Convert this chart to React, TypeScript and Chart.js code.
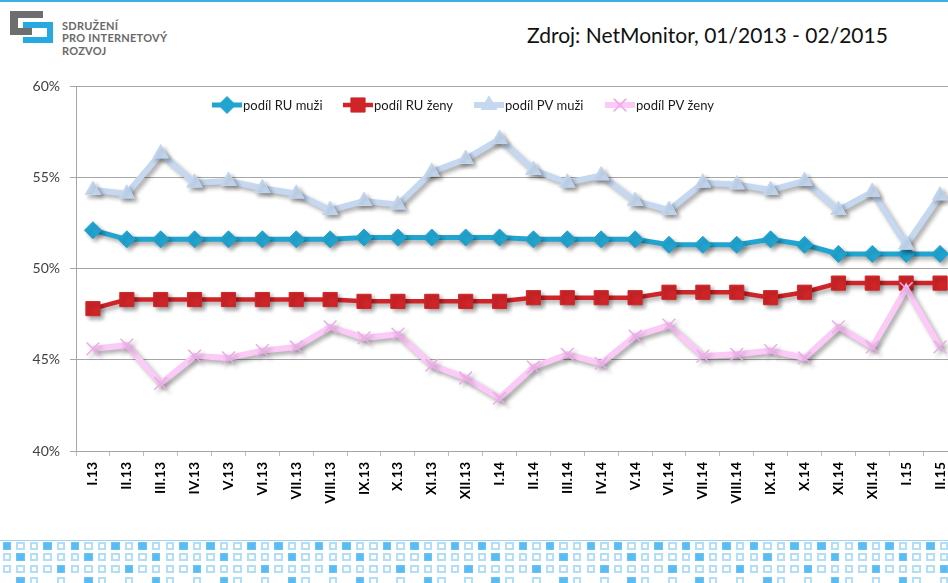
import React, { useEffect, useRef } from 'react';
import { Chart, registerables } from 'chart.js';
import { drawPoint } from 'chart.js/helpers';

Chart.register(...registerables);

const categories = [
  'I.13', 'II.13', 'III.13', 'IV.13', 'V.13', 'VI.13', 'VII.13', 'VIII.13', 'IX.13', 'X.13', 'XI.13', 'XII.13',
  'I.14', 'II.14', 'III.14', 'IV.14', 'V.14', 'VI.14', 'VII.14', 'VIII.14', 'IX.14', 'X.14', 'XI.14', 'XII.14',
  'I.15', 'II.15',
];

const ruMuzi = [52.1, 51.6, 51.6, 51.6, 51.6, 51.6, 51.6, 51.6, 51.7, 51.7, 51.7, 51.7, 51.7, 51.6, 51.6, 51.6, 51.6, 51.3, 51.3, 51.3, 51.6, 51.3, 50.8, 50.8, 50.8, 50.8];
const ruZeny = [47.8, 48.3, 48.3, 48.3, 48.3, 48.3, 48.3, 48.3, 48.2, 48.2, 48.2, 48.2, 48.2, 48.4, 48.4, 48.4, 48.4, 48.7, 48.7, 48.7, 48.4, 48.7, 49.2, 49.2, 49.2, 49.2];
const pvMuzi = [54.3, 54.1, 56.3, 54.7, 54.8, 54.4, 54.1, 53.2, 53.7, 53.5, 55.3, 56.0, 57.1, 55.4, 54.7, 55.1, 53.7, 53.2, 54.7, 54.6, 54.3, 54.8, 53.2, 54.2, 51.3, 54.0];
const pvZeny = [45.6, 45.8, 43.7, 45.2, 45.1, 45.5, 45.7, 46.8, 46.2, 46.4, 44.7, 44.0, 42.9, 44.6, 45.3, 44.8, 46.3, 46.9, 45.2, 45.3, 45.5, 45.1, 46.8, 45.7, 48.9, 45.7];

const seriesLabels = ['podíl RU muži', 'podíl RU ženy', 'podíl PV muži', 'podíl PV ženy'];
const yTicks = [40, 45, 50, 55, 60];

const FONT = 'Lato, "Open Sans", sans-serif';

const shadowPlugin = {
  id: 'lineShadow',
  beforeDatasetsDraw(chart: any) {
    const c = chart.ctx;
    c.save();
    c.shadowColor = 'rgba(0,0,0,0.33)';
    c.shadowBlur = 4;
    c.shadowOffsetX = 3;
    c.shadowOffsetY = 3;
  },
  afterDatasetsDraw(chart: any) {
    chart.ctx.restore();
  },
};

const legendPlugin = {
  id: 'customLegend',
  afterDraw(chart: any) {
    const ctx = chart.ctx;
    const { left, top } = chart.chartArea;
    ctx.save();
    ctx.font = `13px ${FONT}`;
    ctx.textBaseline = 'middle';
    ctx.textAlign = 'left';
    chart.data.datasets.forEach((ds: any, i: number) => {
      const x0 = left + 136 + i * 131;
      const y = top + 19;
      ctx.strokeStyle = ds.borderColor;
      ctx.lineWidth = ds.borderWidth;
      ctx.beginPath();
      ctx.moveTo(x0, y);
      ctx.lineTo(x0 + 30, y);
      ctx.stroke();
      ctx.fillStyle = ds.pointBackgroundColor;
      ctx.strokeStyle = ds.pointBorderColor;
      ctx.lineWidth = ds.pointBorderWidth;
      drawPoint(ctx, { pointStyle: ds.pointStyle, radius: ds.pointRadius, borderWidth: ds.pointBorderWidth, rotation: 0 } as any, x0 + 15, y);
      ctx.fillStyle = '#1a1a1a';
      ctx.fillText(ds.label, x0 + 31, y + 1);
    });
    ctx.restore();
  },
};

function Pattern() {
  const cells: any[] = [];
  for (let r = 0; r < 4; r++) {
    for (let c = 0; c < 70; c++) {
      const m = c % 5;
      let t: string | null;
      if (r === 0) t = m === 0 || m === 3 ? 'f' : 'o';
      else if (r === 1) t = m === 1 ? 'f' : 'o';
      else if (r === 2) t = m === 4 ? 'f' : 'o';
      else t = m === 1 ? 'f' : m === 2 || m === 4 ? 'o' : null;
      if (!t) continue;
      cells.push(
        <div
          key={`${r}-${c}`}
          style={{
            position: 'absolute',
            left: 2.6 + c * 13.58,
            top: 541.6 + r * 11.7,
            width: 8.5,
            height: 8,
            boxSizing: 'border-box',
            border: t === 'f' ? '1px solid rgb(110,195,245)' : '2px solid rgb(178,222,248)',
            background: t === 'f' ? 'rgb(88,188,245)' : '#fff',
          }}
        />
      );
    }
  }
  return (
    <>
      <div style={{ position: 'absolute', left: 0, top: 539.5, width: 948, height: 1.5, background: 'rgb(160,212,242)' }} />
      {cells}
    </>
  );
}

function Logo() {
  const grey = 'rgb(110,110,110)';
  const blue = 'rgb(38,168,225)';
  const bar = (l: number, t: number, w: number, h: number, c: string) => (
    <div style={{ position: 'absolute', left: l, top: t, width: w, height: h, background: c }} />
  );
  return (
    <>
      {bar(10, 11, 33, 7, grey)}
      {bar(10, 11, 8, 24, grey)}
      {bar(10, 28, 22, 7, grey)}
      {bar(23, 22, 30, 6, blue)}
      {bar(47, 22, 6, 21, blue)}
      {bar(23, 37, 30, 6, blue)}
      <div
        style={{
          position: 'absolute',
          left: 62,
          top: 20,
          fontFamily: FONT,
          fontSize: 11,
          fontWeight: 700,
          lineHeight: '12.3px',
          letterSpacing: 0.25,
          color: 'rgb(105,105,105)',
        }}
      >
        <div>SDRUŽENÍ</div>
        <div>PRO INTERNETOVÝ</div>
        <div>ROZVOJ</div>
      </div>
    </>
  );
}

export default function App() {
  const canvasRef = useRef<HTMLCanvasElement | null>(null);

  useEffect(() => {
    if (!canvasRef.current) return;
    const chart = new Chart(canvasRef.current, {
      type: 'line',
      data: {
        labels: categories,
        datasets: [
          {
            label: seriesLabels[0],
            data: ruMuzi,
            borderColor: 'rgb(33,164,208)',
            backgroundColor: 'rgb(33,164,208)',
            borderWidth: 5,
            pointStyle: 'rectRot',
            pointRadius: 8.5,
            pointBackgroundColor: 'rgb(33,164,208)',
            pointBorderColor: 'rgb(33,164,208)',
            pointBorderWidth: 1,
            order: 4,
          },
          {
            label: seriesLabels[1],
            data: ruZeny,
            borderColor: 'rgb(207,37,40)',
            backgroundColor: 'rgb(207,37,40)',
            borderWidth: 4.5,
            pointStyle: 'rect',
            pointRadius: 10,
            pointBackgroundColor: 'rgb(207,37,40)',
            pointBorderColor: 'rgb(207,37,40)',
            pointBorderWidth: 1,
            order: 3,
          },
          {
            label: seriesLabels[2],
            data: pvMuzi,
            borderColor: 'rgb(197,216,240)',
            backgroundColor: 'rgb(197,216,240)',
            borderWidth: 6,
            pointStyle: 'triangle',
            pointRadius: 9,
            pointBackgroundColor: 'rgb(197,216,240)',
            pointBorderColor: 'rgb(197,216,240)',
            pointBorderWidth: 1,
            order: 2,
          },
          {
            label: seriesLabels[3],
            data: pvZeny,
            borderColor: 'rgb(251,202,246)',
            backgroundColor: 'rgb(251,202,246)',
            borderWidth: 6,
            pointStyle: 'crossRot',
            pointRadius: 9,
            pointBackgroundColor: 'rgb(251,202,246)',
            pointBorderColor: 'rgb(238,170,234)',
            pointBorderWidth: 1.5,
            order: 1,
          },
        ] as any,
      },
      options: {
        responsive: false,
        animation: false,
        devicePixelRatio: 1,
        layout: { padding: { top: 86, right: 43, left: 0, bottom: 0 } },
        plugins: { legend: { display: false }, tooltip: { enabled: false } },
        elements: { line: { tension: 0 } },
        scales: {
          x: {
            offset: true,
            grid: { offset: true, drawOnChartArea: false, drawTicks: true, tickLength: 5, color: 'rgb(190,190,190)' },
            border: { color: 'rgb(166,166,166)' },
            ticks: {
              autoSkip: false,
              maxRotation: 90,
              minRotation: 90,
              padding: 6,
              color: '#000',
              font: { family: FONT, size: 14, weight: 'bold' },
            },
            afterFit(s: any) {
              s.height = 132;
            },
          },
          y: {
            min: yTicks[0],
            max: yTicks[yTicks.length - 1],
            afterBuildTicks(s: any) {
              s.ticks = yTicks.map((v) => ({ value: v }));
            },
            ticks: {
              callback: (v: any) => v + '%',
              padding: 10,
              color: '#404040',
              font: { family: FONT, size: 14 },
            },
            grid: { color: 'rgb(166,166,166)', tickLength: 6 },
            border: { color: 'rgb(166,166,166)' },
            afterFit(s: any) {
              s.width = 76;
            },
          },
        },
      } as any,
      plugins: [shadowPlugin, legendPlugin],
    });
    return () => chart.destroy();
  }, []);

  return (
    <div style={{ position: 'fixed', left: 0, top: 0, width: 948, height: 583, overflow: 'hidden', background: '#fff' }}>
      <div style={{ position: 'absolute', left: 0, top: 0, width: 948, height: 2, background: 'rgb(60,176,228)' }} />
      <Logo />
      <div
        style={{
          position: 'absolute',
          left: 527,
          top: 21,
          fontFamily: FONT,
          fontSize: 21,
          lineHeight: '28px',
          color: '#111',
          whiteSpace: 'nowrap',
        }}
      >
        Zdroj: NetMonitor, 01/2013 - 02/2015
      </div>
      <canvas ref={canvasRef} width={1000} height={583} style={{ position: 'absolute', left: 0, top: 0 }} />
      <Pattern />
    </div>
  );
}
